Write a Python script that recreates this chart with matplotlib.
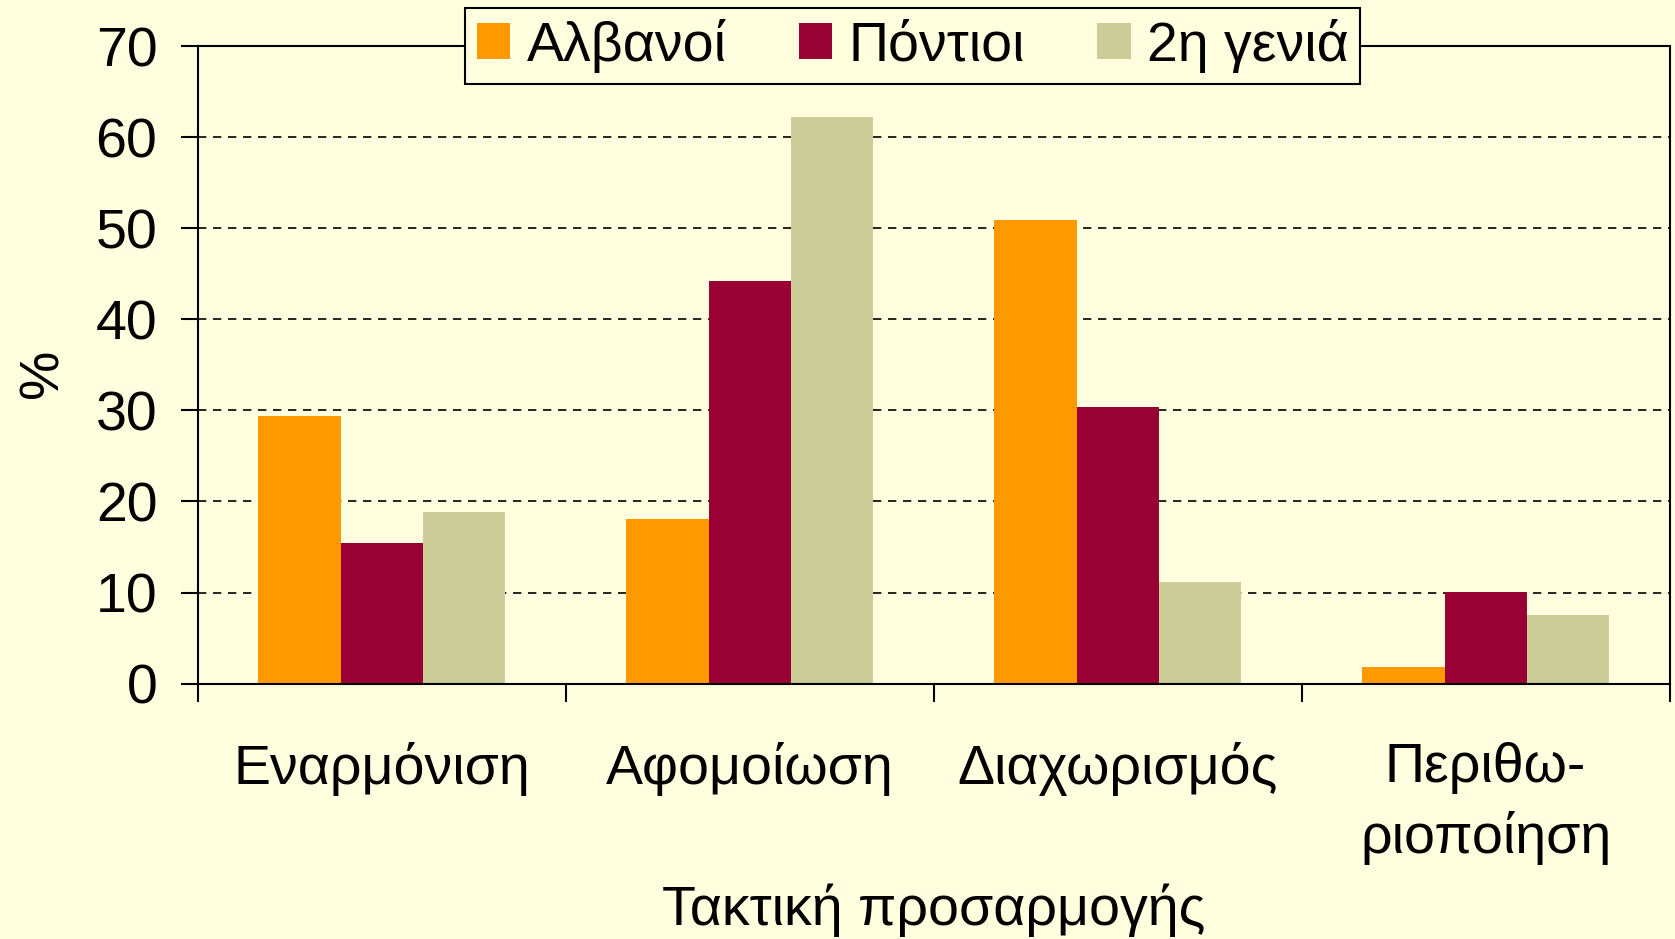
import matplotlib
matplotlib.use("Agg")
import matplotlib.pyplot as plt
from matplotlib import font_manager
import numpy as np

# data (percent)
categories = ["Εναρμόνιση", "Αφομοίωση", "Διαχωρισμός", "Περιθω-\nριοποίηση"]
series_names = ["Αλβανοί", "Πόντιοι", "2η γενιά"]
albanians = [29.4, 18.1, 50.9, 1.8]
pontians = [15.4, 44.2, 30.4, 10.1]
second_gen = [18.8, 62.2, 11.2, 7.5]
yticks = [0, 10, 20, 30, 40, 50, 60, 70]

colors = ["#FF9900", "#990033", "#CCCC99"]
bg = "#FFFFE0"

names = {f.name for f in font_manager.fontManager.ttflist}
family = "Liberation Sans Narrow" if "Liberation Sans Narrow" in names else "Liberation Sans"
plt.rcParams["font.family"] = [family, "DejaVu Sans"]

fig = plt.figure(figsize=(16.75, 9.39), dpi=100, facecolor=bg)
ax = fig.add_axes([0.118, 0.272, 0.8788, 0.679], facecolor=bg)

x = np.arange(len(categories))
w = 0.2235
for i, (vals, name) in enumerate(zip([albanians, pontians, second_gen], series_names)):
    ax.bar(x + (i - 1) * w, vals, width=w, color=colors[i], label=name, zorder=2)

ax.set_xlim(-0.5, len(categories) - 0.5)
ax.set_ylim(0, 70)
ax.set_yticks(yticks)

# category separators as major ticks, names as minor ticks
ax.set_xticks(np.arange(-0.5, len(categories), 1.0))
ax.set_xticklabels([])
ax.set_xticks(x, minor=True)
ax.set_xticklabels(categories, minor=True, fontsize=40, linespacing=1.4)
ax.tick_params(axis="x", which="major", length=13, width=1.5, direction="out")
ax.tick_params(axis="x", which="minor", length=0, pad=42)
ax.tick_params(axis="y", length=12, width=1.5, direction="out", pad=17, labelsize=40)

ax.yaxis.grid(True, color="black", linewidth=1.2, linestyle=(0, (5, 4)), zorder=1)
ax.set_axisbelow(True)
for s in ax.spines.values():
    s.set_linewidth(1.5)
    s.set_color("black")

ax.set_ylabel("%", fontsize=40)
ax.yaxis.set_label_coords(-0.087, 0.486)
ax.set_xlabel("Τακτική προσαρμογής", fontsize=40)
ax.xaxis.set_label_coords(0.5, -0.313)

leg = fig.legend(loc="upper center", bbox_to_anchor=(0.545, 0.992), ncol=3,
                 fontsize=40, frameon=True, fancybox=False, facecolor=bg,
                 edgecolor="black", framealpha=1, handlelength=0.6,
                 handleheight=0.6, handletextpad=0.3, columnspacing=1.3,
                 borderpad=0.2, borderaxespad=0)
leg.get_frame().set_linewidth(1.5)

fig.savefig("out.png", dpi=100, facecolor=bg)
